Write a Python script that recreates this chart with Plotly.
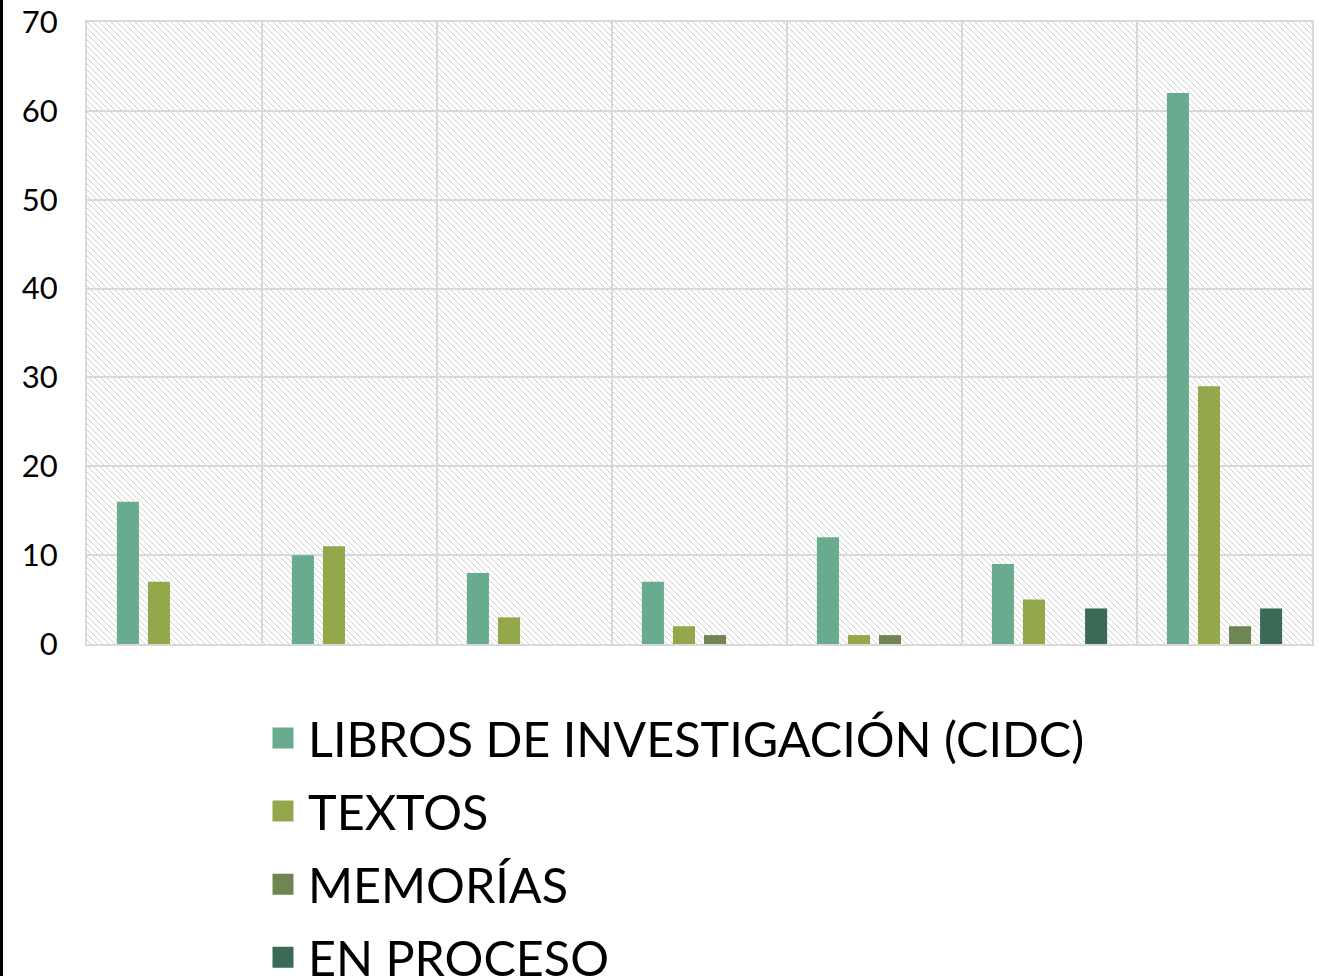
import base64
import plotly.graph_objects as go

categories = ["1", "2", "3", "4", "5", "6", "7"]
series_names = ["LIBROS DE INVESTIGACIÓN (CIDC)", "TEXTOS", "MEMORÍAS", "EN PROCESO"]
libros = [16, 10, 8, 7, 12, 9, 62]
textos = [7, 11, 3, 2, 1, 5, 29]
memorias = [0, 0, 0, 1, 1, 0, 2]
en_proceso = [0, 0, 0, 0, 0, 4, 4]
y_ticks = [0, 10, 20, 30, 40, 50, 60, 70]

values = [libros, textos, memorias, en_proceso]
colors = ["#68AB8F", "#93A84A", "#6F8552", "#3B6A56"]

W, H = 1324, 976
ML, MR, MT, MB = 87, 12, 22, 332
PW, PH = W - ML - MR, H - MT - MB
FONT = "Lato"

fig = go.Figure()
for name, vals, col in zip(series_names, values, colors):
    fig.add_trace(go.Bar(x=categories, y=vals, name=name, marker=dict(color=col, line=dict(width=0)),
                         showlegend=False, legendgroup=name))
for name, col in zip(series_names, colors):
    fig.add_trace(go.Scatter(x=[None], y=[None], mode="markers", name=name, legendgroup=name,
                             marker=dict(symbol="square", size=16, color=col, line=dict(width=5, color=col))))

# hatched plot-area background
svg = (f'<svg xmlns="http://www.w3.org/2000/svg" width="{PW}" height="{PH}">'
       '<defs><pattern id="p" width="6" height="6" patternUnits="userSpaceOnUse">'
       '<path d="M0,0 L6,6 M-1,5 L1,7 M5,-1 L7,1" stroke="#cfcfcf" stroke-width="1"/>'
       '</pattern></defs>'
       f'<rect width="{PW}" height="{PH}" fill="white"/>'
       f'<rect width="{PW}" height="{PH}" fill="url(#p)"/></svg>')
src = "data:image/svg+xml;base64," + base64.b64encode(svg.encode()).decode()
fig.add_layout_image(dict(source=src, xref="paper", yref="paper", x=0, y=1, sizex=1, sizey=1,
                          xanchor="left", yanchor="top", sizing="stretch", layer="below"))

# black frame line at the left page edge
fig.add_shape(type="line", xref="paper", yref="paper", x0=(1.5 - ML) / PW, x1=(1.5 - ML) / PW,
              y0=-MB / PH, y1=1 + MT / PH, line=dict(color="black", width=3))

fig.update_layout(
    width=W, height=H,
    margin=dict(l=ML, r=MR, t=MT, b=MB, pad=0, autoexpand=False),
    paper_bgcolor="white", plot_bgcolor="rgba(0,0,0,0)",
    barmode="group", bargap=0.29, bargroupgap=0.29,
    font=dict(family=FONT, color="black"),
    legend=dict(x=(258 - ML) / PW, y=-(700 - (MT + PH)) / PH, xanchor="left", yanchor="top",
                orientation="v", font=dict(size=48.5, family=FONT, color="black"),
                bgcolor="rgba(0,0,0,0)", itemwidth=40, tracegroupgap=7),
)
fig.update_xaxes(type="category", showticklabels=False, tickson="boundaries", ticks="",
                 showgrid=True, gridcolor="#d9d9d9", gridwidth=2, automargin=False,
                 showline=True, linecolor="#d9d9d9", linewidth=2, mirror=True, zeroline=False)
fig.update_yaxes(range=[0, 70], tickvals=y_ticks, showgrid=True, gridcolor="#d9d9d9", gridwidth=2,
                 showline=True, linecolor="#d9d9d9", linewidth=2, mirror=True, zeroline=False,
                 automargin=False,
                 tickfont=dict(size=31, family=FONT, color="black"), ticks="", ticklabelstandoff=21)

fig.write_html("out.html", config={"displayModeBar": False},
               post_script="document.body.style.margin='0';document.body.style.overflow='hidden';")
